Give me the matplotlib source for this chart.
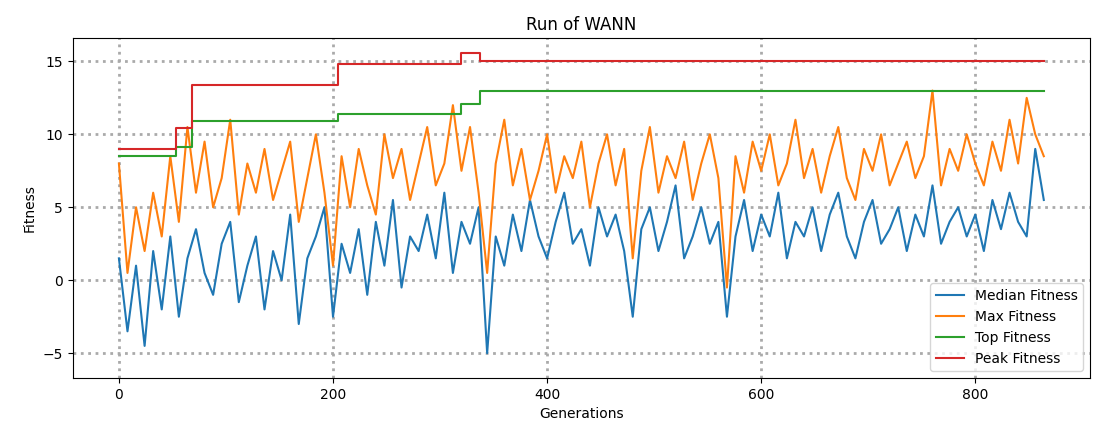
import numpy as np
import matplotlib.pyplot as plt

# hand-read samples, every 8 generations
gens = list(range(0, 865, 8))
median = [1.5, -3.5, 1.0, -4.5, 2.0, -2.0, 3.0, -2.5, 1.5, 3.5, 0.5, -1.0, 2.5, 4.0, -1.5, 1.0, 3.0, -2.0, 2.0, 0.0,
          4.5, -3.0, 1.5, 3.0, 5.0, -2.5, 2.5, 0.5, 3.5, -1.0, 4.0, 1.0, 5.5, -0.5, 3.0, 2.0, 4.5, 1.5, 6.0, 0.5,
          4.0, 2.5, 5.0, -5.0, 3.0, 1.0, 4.5, 2.0, 5.5, 3.0, 1.5, 4.0, 6.0, 2.5, 3.5, 1.0, 5.0, 3.0, 4.5, 2.0,
          -2.5, 3.5, 5.0, 2.0, 4.0, 6.5, 1.5, 3.0, 5.0, 2.5, 4.0, -2.5, 3.0, 5.5, 2.0, 4.5, 3.0, 6.0, 1.5, 4.0,
          3.0, 5.0, 2.0, 4.5, 6.0, 3.0, 1.5, 4.0, 5.5, 2.5, 3.5, 5.0, 2.0, 4.5, 3.0, 6.5, 2.5, 4.0, 5.0, 3.0,
          4.5, 2.0, 5.5, 3.5, 6.0, 4.0, 3.0, 9.0, 5.5]
maxfit = [8.0, 0.5, 5.0, 2.0, 6.0, 3.0, 8.5, 4.0, 10.5, 6.0, 9.5, 5.0, 7.0, 11.0, 4.5, 8.0, 6.0, 9.0, 5.5, 7.5,
          9.5, 4.0, 7.0, 10.0, 6.0, 1.0, 8.5, 5.0, 9.0, 6.5, 4.5, 10.0, 7.0, 9.0, 5.5, 8.0, 10.5, 6.5, 8.0, 12.0,
          7.5, 10.5, 6.0, 0.5, 8.0, 11.0, 6.5, 9.0, 5.5, 7.5, 10.0, 6.0, 8.5, 7.0, 9.5, 5.0, 8.0, 10.0, 6.5, 9.0,
          1.5, 7.5, 10.5, 6.0, 8.5, 7.0, 9.5, 5.5, 8.0, 10.0, 7.0, -0.5, 8.5, 6.0, 9.5, 7.5, 10.0, 6.5, 8.0, 11.0,
          7.0, 9.0, 6.0, 8.5, 10.5, 7.0, 5.5, 9.0, 7.5, 10.0, 6.5, 8.0, 9.5, 7.0, 8.5, 13.0, 6.5, 9.0, 7.5, 10.0,
          8.0, 6.5, 9.5, 7.5, 11.0, 8.0, 12.5, 10.0, 8.5]

step_x = [0, 53, 68, 205, 320, 337, 864]
top = [8.5, 9.1, 10.9, 11.4, 12.1, 13.0, 13.0]
peak = [9.0, 10.4, 13.4, 14.8, 15.6, 15.0, 15.0]

fig, ax = plt.subplots(figsize=(11.18, 4.37), dpi=100)
ax.plot(gens, median, label='Median Fitness')
ax.plot(gens, maxfit, label='Max Fitness')
ax.step(step_x, top, where='post', label='Top Fitness')
ax.step(step_x, peak, where='post', label='Peak Fitness')
ax.set_title('Run of WANN')
ax.set_xlabel('Generations')
ax.set_ylabel('Fitness')
ax.set_ylim(-6.7, 16.6)
ax.grid(True, linestyle=':', linewidth=2, color='#aaaaaa')
ax.legend(loc='lower right')
fig.subplots_adjust(left=0.065, right=0.975, top=0.913, bottom=0.135)
fig.savefig('out.png')
